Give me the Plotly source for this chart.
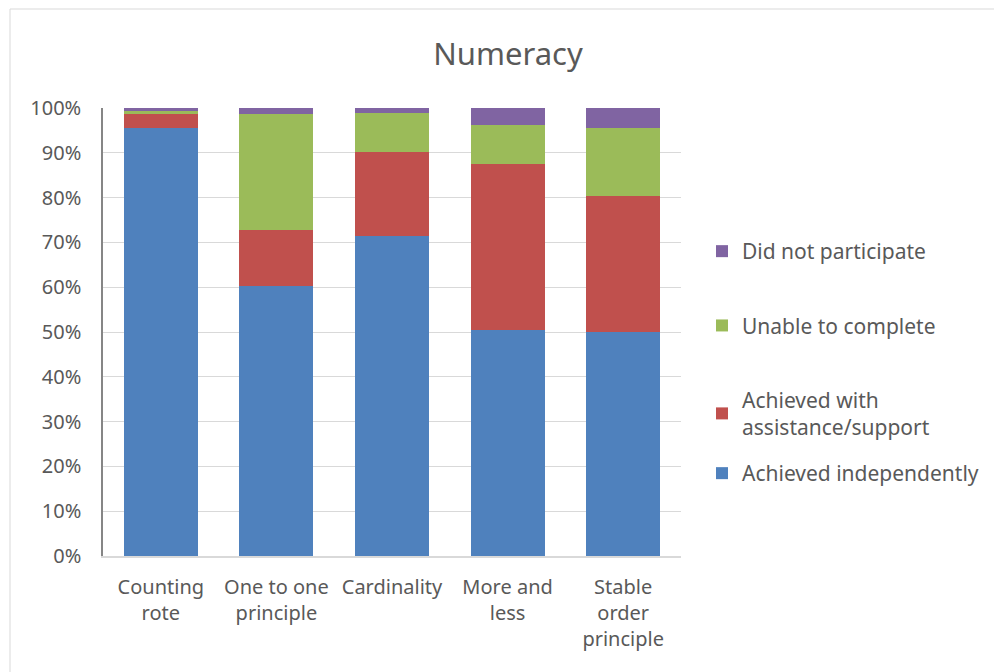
import plotly.graph_objects as go

categories = ["Counting<br>rote", "One to one<br>principle", "Cardinality",
              "More and<br>less", "Stable<br>order<br>principle"]

achieved_independently = [95.5, 60.3, 71.4, 50.4, 50.0]
achieved_with_support = [3.2, 12.5, 18.8, 37.1, 30.4]
unable_to_complete = [0.7, 25.8, 8.6, 8.7, 15.2]
did_not_participate = [0.6, 1.4, 1.2, 3.8, 4.4]

# (name, values, colour, legend, rank within legend)
series = [
    ("Achieved independently", achieved_independently, "#4F81BD", "legend2", 1),
    ("Achieved with<br>assistance/support", achieved_with_support, "#C0504D", "legend", 3),
    ("Unable to complete", unable_to_complete, "#9BBB59", "legend", 2),
    ("Did not participate", did_not_participate, "#8064A2", "legend", 1),
]

FONT = "Noto Sans"
TEXT = "#595959"

W, H = 994, 672
L, R, T, B = 103, 313, 108, 116
pw = W - L - R
ph = H - T - B

fig = go.Figure()
for name, vals, color, leg, rank in series:
    fig.add_trace(go.Bar(
        x=categories, y=vals, name=name,
        marker=dict(color=color, line=dict(width=0)),
        legend=leg, legendrank=rank, legendgroup=name,
    ))

# outer chart frame
fig.add_shape(type="rect", xref="paper", yref="paper",
              x0=(10 - L) / pw, x1=(W + 5 - L) / pw,
              y0=-(H + 5 - T - ph) / ph, y1=1 + (T - 9) / ph,
              line=dict(color="#D9D9D9", width=1), fillcolor="rgba(0,0,0,0)",
              layer="below")

legend_font = dict(size=21, color=TEXT, family=FONT)
legend_x = (702 - (L + pw)) / pw

fig.update_layout(
    width=W, height=H,
    margin=dict(l=L, r=R, t=T, b=B, autoexpand=False),
    barmode="stack",
    bargap=0.36,
    plot_bgcolor="white",
    paper_bgcolor="white",
    font=dict(family=FONT, color=TEXT, size=20),
    title=dict(text="Numeracy", x=508 / W, xanchor="center",
               y=1 - 54 / H, yanchor="middle",
               font=dict(size=31, color=TEXT, family=FONT)),
    legend=dict(
        traceorder="grouped", tracegroupgap=44,
        x=1 + legend_x, xanchor="left",
        y=(T + ph - 231) / ph, yanchor="top",
        font=legend_font, itemwidth=30,
    ),
    legend2=dict(
        x=1 + legend_x, xanchor="left",
        y=(T + ph - 453) / ph, yanchor="top",
        font=legend_font, itemwidth=30,
    ),
    xaxis=dict(
        showgrid=False, showline=True, linecolor="#D9D9D9", linewidth=1.5,
        ticks="", tickfont=dict(size=20, color=TEXT), ticklabelstandoff=12,
    ),
    yaxis=dict(
        range=[0, 100], dtick=10, ticksuffix="%",
        showgrid=True, gridcolor="#D9D9D9", gridwidth=1.3,
        showline=True, linecolor="#868686", linewidth=1.5,
        ticks="", tickfont=dict(size=20, color=TEXT), ticklabelstandoff=16,
        zeroline=False,
    ),
)

fig.write_html("out.html")
